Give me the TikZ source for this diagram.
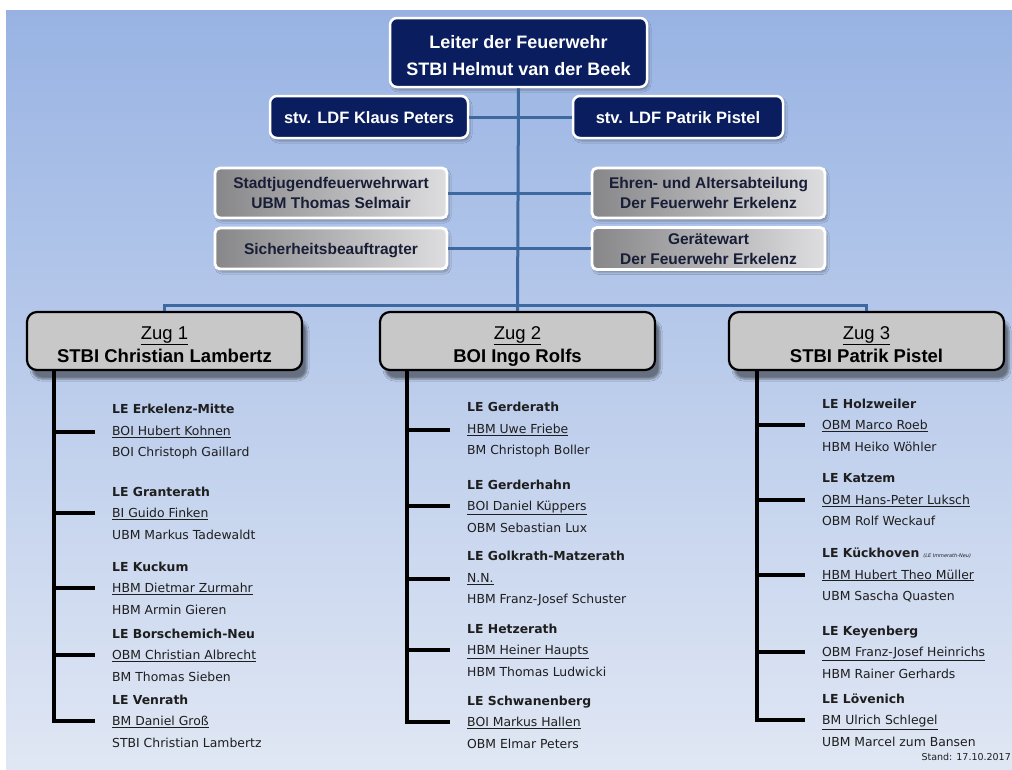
\documentclass[tikz,border=0pt]{standalone}
\usepackage{fontspec}
\setmainfont{Liberation Sans}
\newfontfamily\listfont{DejaVu Sans}
\usetikzlibrary{shadows.blur}

\definecolor{bgtop}{RGB}{152,179,227}
\definecolor{bgbot}{RGB}{224,231,244}
\definecolor{navy}{RGB}{10,30,95}
\definecolor{lineblue}{RGB}{62,105,160}
\definecolor{graydark}{RGB}{135,135,137}
\definecolor{graylight}{RGB}{222,222,224}
\definecolor{graytext}{RGB}{25,30,55}
\definecolor{zuggray}{RGB}{200,200,200}
\definecolor{listtext}{RGB}{30,30,30}

\tikzset{
  navybox/.style={draw=white, line width=2.5pt, fill=navy, rounded corners=7pt, text=white, align=center,
    text depth=0pt, blur shadow={shadow xshift=2pt, shadow yshift=-3pt, shadow opacity=30}},
  graybox/.style={draw=white, line width=2.8pt, left color=graydark, right color=graylight, rounded corners=5pt,
    text=graytext, align=center, inner sep=2pt, text height=31pt, text depth=0pt,
    font=\fontsize{15.5}{20}\selectfont\bfseries,
    blur shadow={shadow xshift=2pt, shadow yshift=-3pt, shadow opacity=30}},
  zugbox/.style={draw=black, line width=2.2pt, fill=zuggray, rounded corners=10pt, align=center,
    minimum width=275, minimum height=58, text height=42pt, text depth=0pt, font=\fontsize{18.5}{23}\selectfont,
    blur shadow={shadow xshift=5pt, shadow yshift=-9pt, shadow opacity=45}},
  entry/.style={anchor=west, inner sep=0pt, align=left, text=listtext, font=\listfont\fontsize{12.4}{21.5}\selectfont},
  blueline/.style={draw=lineblue, line width=3pt},
  listline/.style={draw=black, line width=3.5pt},
}

\begin{document}
\begin{tikzpicture}[x=1pt, y=-1pt]

\useasboundingbox (0,0) rectangle (1012,769);

% Background
\fill [white] (0,0) rectangle (1012,769);
\shade [top color=bgtop, bottom color=bgbot] (6,10) rectangle (1012,769);

% Leitung
\node [navybox, minimum width=257, minimum height=69, text height=46pt, font=\fontsize{18}{27}\selectfont\bfseries] (ldf) at (518.5,52.5) {Leiter der Feuerwehr\\STBI Helmut van der Beek};
\node [navybox, minimum width=198, minimum height=42, text height=12pt, font=\fontsize{16.5}{20}\selectfont\bfseries] (stvl) at (369,117) {stv. LDF Klaus Peters};
\node [navybox, minimum width=210, minimum height=42, text height=12pt, font=\fontsize{16.5}{20}\selectfont\bfseries] (stvr) at (678,117) {stv. LDF Patrik Pistel};

% Stabsstellen
\node [graybox, minimum width=232, minimum height=50] (sjf) at (331,193) {Stadtjugendfeuerwehrwart\\UBM Thomas Selmair};
\node [graybox, minimum width=233, minimum height=50] (ehren) at (708.5,193) {Ehren- und Altersabteilung\\Der Feuerwehr Erkelenz};
\node [graybox, minimum width=232, minimum height=41, text height=11pt] (sib) at (331,248.5) {Sicherheitsbeauftragter};
\node [graybox, minimum width=233, minimum height=42] (gwart) at (708.5,248.5) {Gerätewart\\Der Feuerwehr Erkelenz};

% Zuege
\node [zugbox] (z1) at (164.5,341) {\underline{Zug 1}\\\textbf{STBI Christian Lambertz}};
\node [zugbox] (z2) at (517.5,341) {\underline{Zug 2}\\\textbf{BOI Ingo Rolfs}};
\node [zugbox] (z3) at (866.5,341) {\underline{Zug 3}\\\textbf{STBI Patrik Pistel}};

% Connectors
\coordinate (bus) at (518,305);
\draw [blueline] (ldf.south) -- (z2.north);
\draw [blueline] (stvl.east) -- (stvr.west);
\draw [blueline] (sjf.east) -- (ehren.west);
\draw [blueline] (sib.east) -- (gwart.west);
\draw [blueline] (z1.north) |- (bus) -| (z3.north);

% Zug 1
\node [entry] (e11) at (112,432) {\textbf{LE Erkelenz-Mitte}\\\underline{BOI Hubert Kohnen}\\BOI Christoph Gaillard};
\node [entry] (e12) at (112,513) {\textbf{LE Granterath}\\\underline{BI Guido Finken}\\UBM Markus Tadewaldt};
\node [entry] (e13) at (112,588) {\textbf{LE Kuckum}\\\underline{HBM Dietmar Zurmahr}\\HBM Armin Gieren};
\node [entry] (e14) at (112,655) {\textbf{LE Borschemich-Neu}\\\underline{OBM Christian Albrecht}\\BM Thomas Sieben};
\node [entry] (e15) at (112,721) {\textbf{LE Venrath}\\\underline{BM Daniel Groß}\\STBI Christian Lambertz};

\draw [listline] ([xshift=28pt]z1.south west) |- ([xshift=-17pt]e15.west);
\draw [listline] ([xshift=28pt]z1.south west |- e11.west) -- ([xshift=-17pt]e11.west);
\draw [listline] ([xshift=28pt]z1.south west |- e12.west) -- ([xshift=-17pt]e12.west);
\draw [listline] ([xshift=28pt]z1.south west |- e13.west) -- ([xshift=-17pt]e13.west);
\draw [listline] ([xshift=28pt]z1.south west |- e14.west) -- ([xshift=-17pt]e14.west);

% Zug 2
\node [entry] (e21) at (467,430) {\textbf{LE Gerderath}\\\underline{HBM Uwe Friebe}\\BM Christoph Boller};
\node [entry] (e22) at (467,506) {\textbf{LE Gerderhahn}\\\underline{BOI Daniel Küppers}\\OBM Sebastian Lux};
\node [entry] (e23) at (467,579) {\textbf{LE Golkrath-Matzerath}\\\underline{N.N.}\\HBM Franz-Josef Schuster};
\node [entry] (e24) at (467,650) {\textbf{LE Hetzerath}\\\underline{HBM Heiner Haupts}\\HBM Thomas Ludwicki};
\node [entry] (e25) at (467,722) {\textbf{LE Schwanenberg}\\\underline{BOI Markus Hallen}\\OBM Elmar Peters};

\draw [listline] ([xshift=28pt]z2.south west) |- ([xshift=-17pt]e25.west);
\draw [listline] ([xshift=28pt]z2.south west |- e21.west) -- ([xshift=-17pt]e21.west);
\draw [listline] ([xshift=28pt]z2.south west |- e22.west) -- ([xshift=-17pt]e22.west);
\draw [listline] ([xshift=28pt]z2.south west |- e23.west) -- ([xshift=-17pt]e23.west);
\draw [listline] ([xshift=28pt]z2.south west |- e24.west) -- ([xshift=-17pt]e24.west);

% Zug 3
\node [entry] (e31) at (822,425) {\textbf{LE Holzweiler}\\\underline{OBM Marco Roeb}\\HBM Heiko Wöhler};
\node [entry] (e32) at (822,500) {\textbf{LE Katzem}\\\underline{OBM Hans-Peter Luksch}\\OBM Rolf Weckauf};
\node [entry] (e33) at (822,575) {\textbf{LE Kückhoven} {\fontsize{5}{6}\selectfont\itshape (LE Immerath-Neu)}\\\underline{HBM Hubert Theo Müller}\\UBM Sascha Quasten};
\node [entry] (e34) at (822,652) {\textbf{LE Keyenberg}\\\underline{OBM Franz-Josef Heinrichs}\\HBM Rainer Gerhards};
\node [entry] (e35) at (822,720) {\textbf{LE Lövenich}\\\underline{BM Ulrich Schlegel}\\UBM Marcel zum Bansen};

\draw [listline] ([xshift=29pt]z3.south west) |- ([xshift=-17pt]e35.west);
\draw [listline] ([xshift=29pt]z3.south west |- e31.west) -- ([xshift=-17pt]e31.west);
\draw [listline] ([xshift=29pt]z3.south west |- e32.west) -- ([xshift=-17pt]e32.west);
\draw [listline] ([xshift=29pt]z3.south west |- e33.west) -- ([xshift=-17pt]e33.west);
\draw [listline] ([xshift=29pt]z3.south west |- e34.west) -- ([xshift=-17pt]e34.west);

% Stand
\node [anchor=east, inner sep=1pt, text=listtext, font=\listfont\fontsize{9.5}{11}\selectfont] (stand) at (1012,757) {Stand: 17.10.2017};

\end{tikzpicture}
\end{document}
